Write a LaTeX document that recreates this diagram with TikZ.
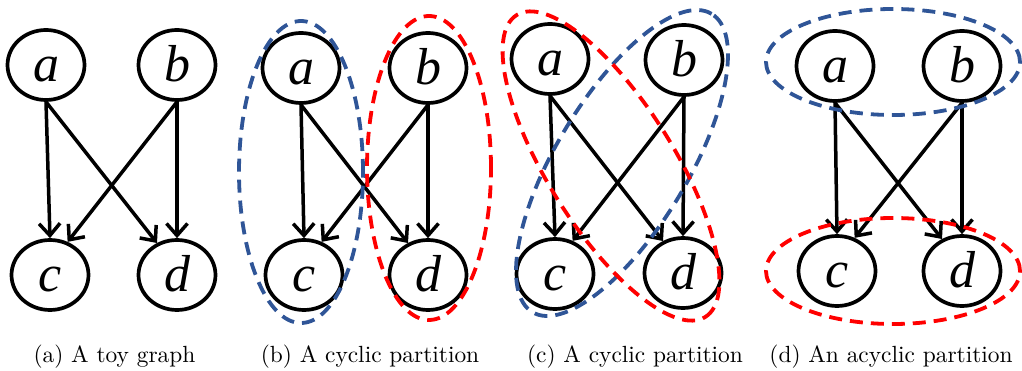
\documentclass[tikz,border=0pt]{standalone}
\usepackage{fontspec}
\newfontfamily\labfont{Liberation Serif}
\usetikzlibrary{arrows.meta,shapes.geometric}
\definecolor{partblue}{RGB}{47,85,151}
\definecolor{partred}{RGB}{255,0,0}
\begin{document}
\begin{tikzpicture}[x=1pt,y=-1pt,
  vtx/.style={ellipse,draw,line width=3.7pt,minimum width=77pt,minimum height=70pt,
    inner sep=0pt,font=\labfont\itshape\fontsize{52}{52}\selectfont,
    text height=33pt,text depth=0pt},
  edge/.style={line width=3.5pt,-{Straight Barb[length=12pt,width=21pt]}},
  bluepart/.style={draw=partblue,line width=3.8pt,dash pattern=on 13pt off 8pt},
  redpart/.style={draw=partred,line width=3.8pt,dash pattern=on 13pt off 8pt},
  captext/.style={anchor=base,inner sep=0pt}]
\useasboundingbox (0,0) rectangle (1022,371);

% panel (a)
\node[vtx] (a1) at (46,65) {a};
\node[vtx] (b1) at (177,65) {b};
\node[vtx] (c1) at (50,275) {c};
\node[vtx] (d1) at (177,275) {d};
\draw[edge] (a1.south) -- (c1.north);
\draw[edge] (a1.south) -- (d1.122);
\draw[edge] (b1.south) -- (c1.62);
\draw[edge] (b1.south) -- (d1.north);

% panel (b)
\node[vtx] (a2) at (301,68) {a};
\node[vtx] (b2) at (428,68) {b};
\node[vtx] (c2) at (304,275) {c};
\node[vtx] (d2) at (428,275) {d};
\draw[edge] (a2.south) -- (c2.north);
\draw[edge] (a2.south) -- (d2.122);
\draw[edge] (b2.south) -- (c2.62);
\draw[edge] (b2.south) -- (d2.north);
\draw[bluepart] (301,172) ellipse [x radius=62pt, y radius=151pt];
\draw[redpart] (429,168) ellipse [x radius=62pt, y radius=152pt];

% panel (c)
\node[vtx] (a3) at (550,59) {a};
\node[vtx] (b3) at (684,60) {b};
\node[vtx] (c3) at (555,274) {c};
\node[vtx] (d3) at (683,273) {d};
\draw[edge] (a3.south) -- (c3.north);
\draw[edge] (a3.south) -- (d3.122);
\draw[edge] (b3.south) -- (c3.62);
\draw[edge] (b3.south) -- (d3.north);
\draw[bluepart, rotate around={59:(622,163)}] (622,163) ellipse [x radius=174pt, y radius=66pt];
\draw[redpart, rotate around={-58:(611,166)}] (611,166) ellipse [x radius=178pt, y radius=63pt];

% panel (d)
\node[vtx] (a4) at (835,66) {a};
\node[vtx] (b4) at (962,66) {b};
\node[vtx] (c4) at (837,271) {c};
\node[vtx] (d4) at (962,271) {d};
\draw[edge] (a4.south) -- (c4.north);
\draw[edge] (a4.south) -- (d4.122);
\draw[edge] (b4.south) -- (c4.62);
\draw[edge] (b4.south) -- (d4.north);
\draw[bluepart] (893,62) ellipse [x radius=127pt, y radius=53pt];
\draw[redpart] (893,271) ellipse [x radius=127pt, y radius=53pt];

% captions
\node[captext] (capa) at (114.5,362) {\scalebox{2.34}{\fontsize{10}{12}\selectfont (a) A toy graph}};
\node[captext] (capb) at (370,362) {\scalebox{2.34}{\fontsize{10}{12}\selectfont (b) A cyclic partition}};
\node[captext] (capc) at (635,362) {\scalebox{2.34}{\fontsize{10}{12}\selectfont (c) A cyclic partition}};
\node[captext] (capd) at (891,362) {\scalebox{2.34}{\fontsize{10}{12}\selectfont (d) An acyclic partition}};
\end{tikzpicture}
\end{document}
